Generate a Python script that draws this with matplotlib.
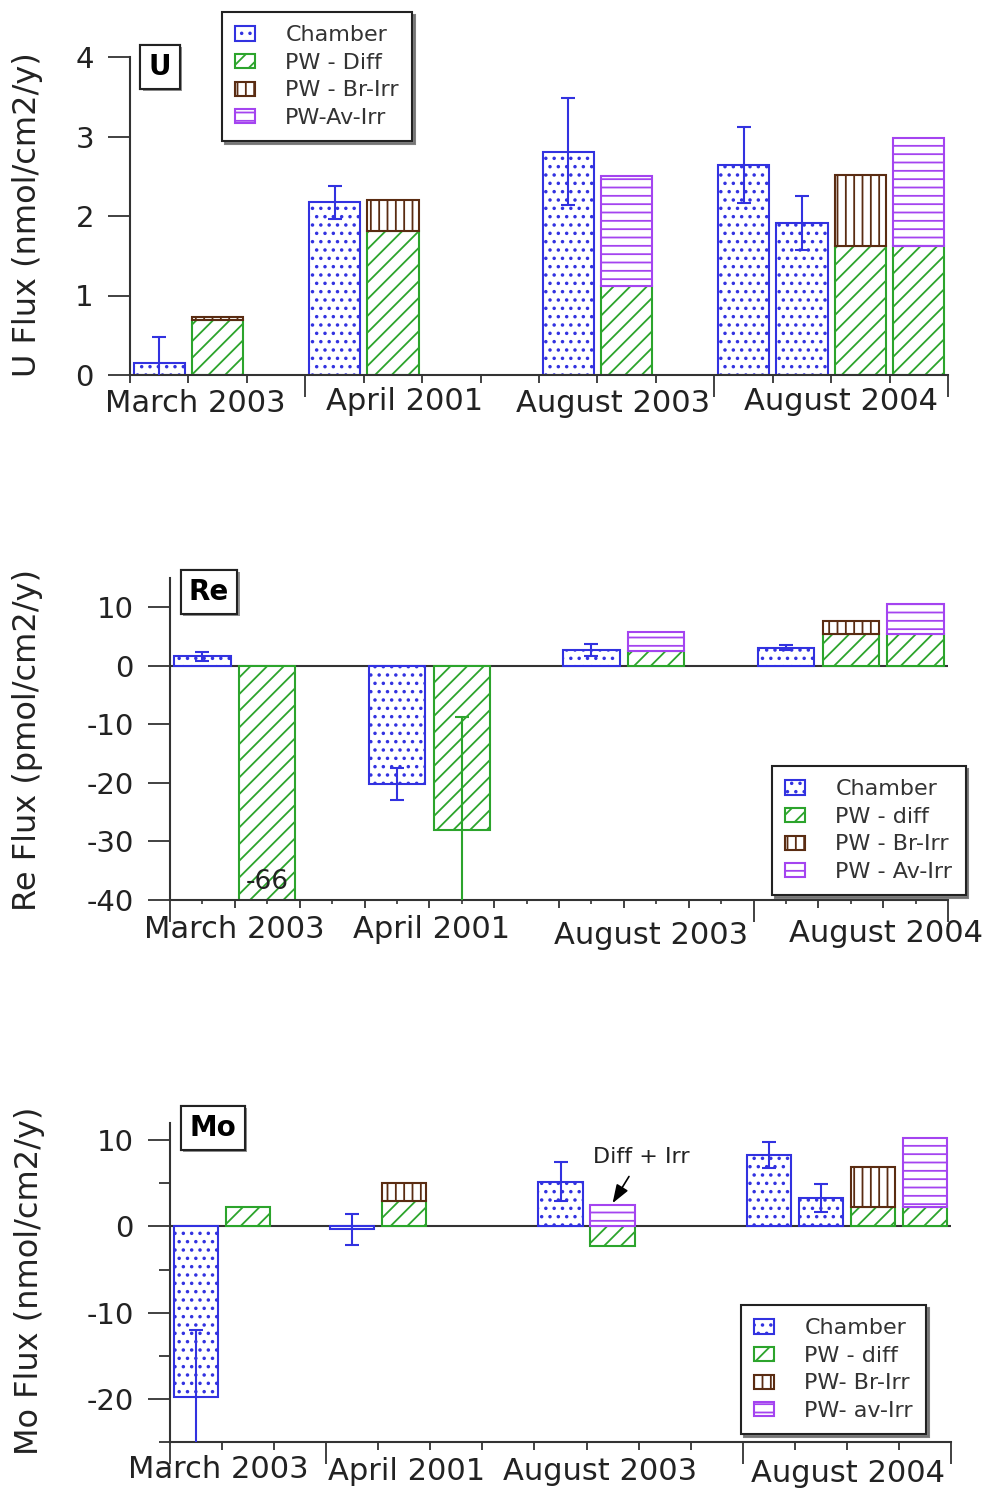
import matplotlib.pyplot as plt
import matplotlib.patheffects as pe
from matplotlib.patches import Patch
from matplotlib.ticker import FixedLocator
import numpy as np

plt.rcParams['font.family'] = ['DejaVu Sans']
plt.rcParams['hatch.linewidth'] = 1.3
plt.rcParams['axes.unicode_minus'] = False

W, H = 992, 1491

BLUE = '#3232e0'
GREEN = '#2ca42c'
BROWN = '#5a2c12'
PURPLE = '#a444f0'

groups = ['March 2003', 'April 2001', 'August 2003', 'August 2004']

# ---- U flux (nmol/cm2/y)
u_chamber = [0.15, 2.17, 2.81, 2.64, 1.91]
u_chamber_err = [0.33, 0.21, 0.67, 0.48, 0.34]
u_diff = [0.69, 1.81, 1.12, 1.62, 1.62]
u_irr = [0.04, 0.39, 1.38, 0.89, 1.36]
u_irr_kind = ['Br', 'Br', 'Av', 'Br', 'Av']

# ---- Re flux (pmol/cm2/y)
re_chamber = [1.6, -20.2, 2.7, 3.1]
re_chamber_err = [0.8, 2.8, 1.0, 0.4]
re_diff = [-66, -28, 2.6, 5.4, 5.4]
re_diff_err = [0, 19.3, 0, 0, 0]
re_irr = [0, 0, 3.2, 2.3, 5.1]
re_irr_kind = ['', '', 'Av', 'Br', 'Av']

# ---- Mo flux (nmol/cm2/y)
mo_chamber = [-19.8, -0.3, 5.2, 8.25, 3.3]
mo_chamber_err = [7.8, 1.8, 2.3, 1.5, 1.6]
mo_diff = [2.25, 3.0, -2.3, 2.3, 2.3]
mo_irr = [0, 2.0, 2.5, 4.6, 8.0]
mo_irr_kind = ['', 'Br', 'Av', 'Br', 'Av']

STYLE = {
    'Chamber': dict(edgecolor=BLUE, hatch='..'),
    'Diff': dict(edgecolor=GREEN, hatch='//'),
    'Br': dict(edgecolor=BROWN, hatch='||'),
    'Av': dict(edgecolor=PURPLE, hatch='--'),
}


def fpos(px, py):
    return px / W, 1 - py / H


def add_axes(left, top, right, bottom):
    x0, y1 = fpos(left, top)
    x1, y0 = fpos(right, bottom)
    return fig.add_axes([x0, y0, x1 - x0, y1 - y0])


def draw_bars(ax, ch_x, ch, ch_err, pw_x, diff, irr, kinds, width, diff_err=None):
    ax.bar(ch_x, ch, width, facecolor='white', lw=1.5, zorder=2, **STYLE['Chamber'])
    ax.errorbar(ch_x, ch, yerr=ch_err, fmt='none', ecolor=BLUE, elinewidth=1.5,
                capsize=5, capthick=1.5, zorder=4)
    ax.bar(pw_x, diff, width, facecolor='white', lw=1.5, zorder=2, **STYLE['Diff'])
    if diff_err is not None:
        err = np.array(diff_err)
        m = err > 0
        ax.errorbar(np.array(pw_x)[m], np.array(diff)[m], yerr=err[m], fmt='none',
                    ecolor=GREEN, elinewidth=1.5, capsize=5, capthick=1.5, zorder=4)
    irr = np.array(irr)
    base = np.maximum(np.array(diff), 0)
    kinds = np.array(kinds)
    for k in ('Br', 'Av'):
        m = (kinds == k) & (irr > 0)
        ax.bar(np.array(pw_x)[m], irr[m], width, bottom=base[m], facecolor='white',
               lw=1.5, zorder=3, **STYLE[k])


def style_axes(ax, xmax, seps, ylim, yticks, yminor=None, halves=False):
    ax.set_xlim(0, xmax)
    ax.set_ylim(*ylim)
    for s in ('top', 'right'):
        ax.spines[s].set_visible(False)
    for s in ('left', 'bottom'):
        ax.spines[s].set_color('#333333')
        ax.spines[s].set_linewidth(1.5)
    ax.xaxis.set_major_locator(FixedLocator(seps))
    ax.xaxis.set_minor_locator(FixedLocator(np.arange(0, xmax + 1)))
    ax.tick_params(axis='x', which='major', length=16, width=1.3, color='#333333',
                   labelbottom=False)
    ax.tick_params(axis='x', which='minor', length=6, width=1.3, color='#333333')
    ax.set_yticks(yticks)
    if yminor is not None:
        ax.yaxis.set_minor_locator(FixedLocator(yminor))
    ax.tick_params(axis='y', which='major', length=16, width=1.3, color='#333333',
                   labelsize=21, pad=10, labelcolor='#222222')
    ax.tick_params(axis='y', which='minor', length=8, width=1.3, color='#333333')
    if halves:
        sec = ax.secondary_xaxis('bottom')
        sec.set_xticks(np.arange(0.5, xmax, 1.0))
        sec.tick_params(length=3, width=1.2, color='#333333', labelbottom=False)
        sec.spines['bottom'].set_visible(False)


def panel_tag(ax, text, px, py):
    t = fig.text(*fpos(px, py), text, fontsize=20, fontweight='bold', ha='center',
                 va='center',
                 bbox=dict(boxstyle='square,pad=0.3', facecolor='white',
                           edgecolor='#222222', lw=1.5))
    t.get_bbox_patch().set_path_effects([pe.withSimplePatchShadow(offset=(1.5, -1.5),
                                                                  shadow_rgbFace='0.4',
                                                                  alpha=0.7),
                                         pe.Normal()])


def legend(ax, labels, px, py):
    handles = [Patch(facecolor='white', lw=1.5, **STYLE[k])
               for k in ('Chamber', 'Diff', 'Br', 'Av')]
    ax.legend(handles, labels, loc='upper left', bbox_to_anchor=fpos(px, py),
              bbox_transform=fig.transFigure, fontsize=16, frameon=True,
              fancybox=False, shadow={'facecolor': '0.45', 'edgecolor': '0.45',
                                      'alpha': 0.9},
              edgecolor='#222222', framealpha=1, handlelength=0.9,
              handleheight=0.6, handletextpad=1.35, labelspacing=0.34,
              borderpad=0.6, borderaxespad=0, labelcolor='#333333'
              ).get_frame().set_linewidth(1.5)


def group_labels(items):
    for txt, px, py in items:
        fig.text(*fpos(px, py), txt, fontsize=22, ha='center', va='center',
                 color='#222222')


fig = plt.figure(figsize=(W / 100, H / 100), dpi=100)

# U panel
ax_u = add_axes(130, 57, 948, 375)
draw_bars(ax_u, [0.5, 3.5, 7.5, 10.5, 11.5], u_chamber, u_chamber_err,
          [1.5, 4.5, 8.5, 12.5, 13.5], u_diff, u_irr, u_irr_kind, 0.88)
style_axes(ax_u, 14, [3, 10, 14], (0, 4), [0, 1, 2, 3, 4])
panel_tag(ax_u, 'U', 160, 67)
legend(ax_u, ['Chamber', 'PW - Diff', 'PW - Br-Irr', 'PW-Av-Irr'], 222, 12)
group_labels([(groups[0], 195, 403), (groups[1], 405, 401),
              (groups[2], 613, 404), (groups[3], 841, 402)])
fig.text(*fpos(28, 215), 'U Flux (nmol/cm2/y)', fontsize=23, rotation=90,
         ha='center', va='center', color='#222222')

# Re panel
ax_re = add_axes(170, 578, 948, 900)
draw_bars(ax_re, [0.5, 3.5, 6.5, 9.5], re_chamber, re_chamber_err,
          [1.5, 4.5, 7.5, 10.5, 11.5], re_diff, re_irr, re_irr_kind, 0.87,
          diff_err=re_diff_err)
ax_re.axhline(0, color='#333333', lw=1.5, zorder=1)
style_axes(ax_re, 12, [0, 9, 12], (-40, 15), [-40, -30, -20, -10, 0, 10], halves=True)
ax_re.text(1.5, -37, f'{re_diff[0]}', fontsize=19, ha='center', va='center',
           color='#222222', zorder=5)
panel_tag(ax_re, 'Re', 209, 592)
legend(ax_re, ['Chamber', 'PW - diff', 'PW - Br-Irr', 'PW - Av-Irr'], 772, 766)
group_labels([(groups[0], 234, 930), (groups[1], 432, 930),
              (groups[2], 651, 936), (groups[3], 886, 934)])
fig.text(*fpos(28, 740), 'Re Flux (pmol/cm2/y)', fontsize=23, rotation=90,
         ha='center', va='center', color='#222222')

# Mo panel
ax_mo = add_axes(170, 1123, 951, 1442)
draw_bars(ax_mo, [0.5, 3.5, 7.5, 11.5, 12.5], mo_chamber, mo_chamber_err,
          [1.5, 4.5, 8.5, 13.5, 14.5], mo_diff, mo_irr, mo_irr_kind, 0.85)
ax_mo.axhline(0, color='#333333', lw=1.5, zorder=1)
style_axes(ax_mo, 15, [0, 3, 11, 15], (-25, 12), [-20, -10, 0, 10],
           yminor=[-25, -15, -5, 5])
ax_mo.annotate('Diff + Irr', xy=(8.5, mo_irr[2] + 0.2), xytext=(9.05, 8.1),
               fontsize=16, ha='center', va='center', color='#222222',
               arrowprops=dict(arrowstyle='-|>,head_length=0.7,head_width=0.25',
                               color='black', lw=1.2, shrinkA=6, shrinkB=0))
panel_tag(ax_mo, 'Mo', 213, 1128)
legend(ax_mo, ['Chamber', 'PW - diff', 'PW- Br-Irr', 'PW- av-Irr'], 741, 1305)
group_labels([(groups[0], 218, 1470), (groups[1], 407, 1472),
              (groups[2], 600, 1472), (groups[3], 848, 1473)])
fig.text(*fpos(30, 1281), 'Mo Flux (nmol/cm2/y)', fontsize=23, rotation=90,
         ha='center', va='center', color='#222222')

fig.savefig('out.png', dpi=100)
